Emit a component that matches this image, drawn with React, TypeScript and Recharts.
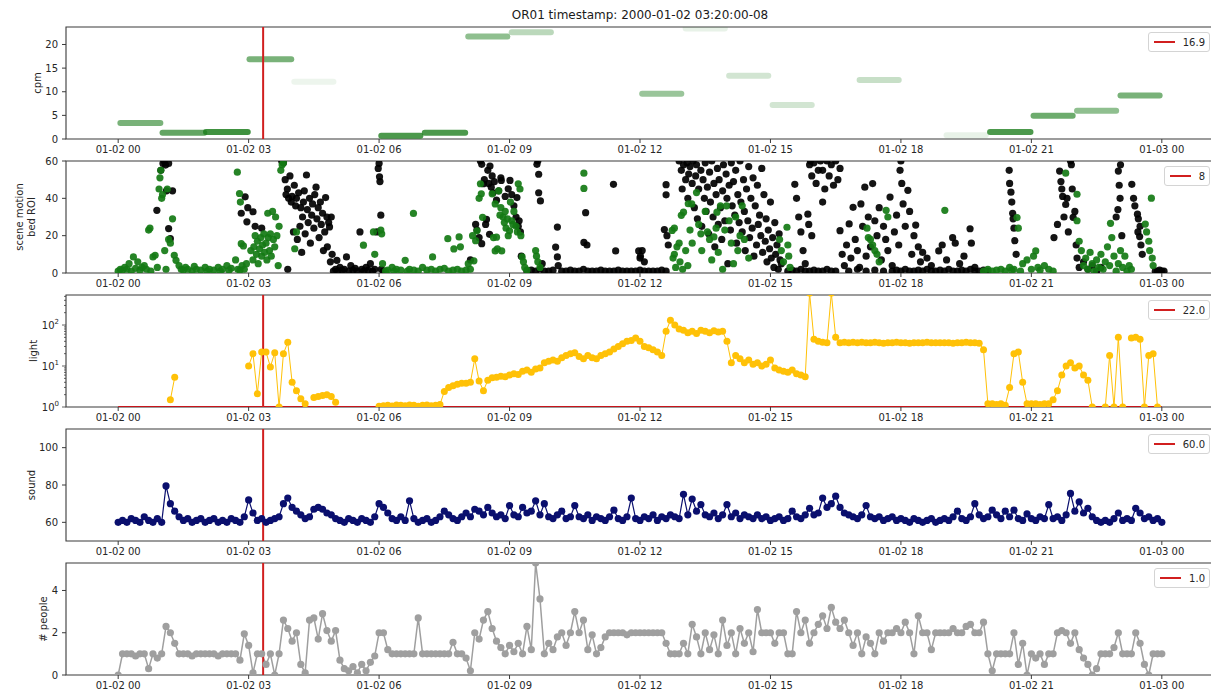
import React from 'react';
import {
  ComposedChart,
  Line,
  Scatter,
  XAxis,
  YAxis,
  ReferenceLine,
  ReferenceArea,
} from 'recharts';

// ---- shared axis data ----
const HOUR_TICKS = [0, 3, 6, 9, 12, 15, 18, 21, 24];
const HOUR_TICK_LABELS = [
  '01-02 00', '01-02 03', '01-02 06', '01-02 09', '01-02 12',
  '01-02 15', '01-02 18', '01-02 21', '01-03 00',
];
const X_DOMAIN: [number, number] = [-1.2, 25.2];
const MARK_HOUR = 3 + 20 / 60;
const TITLE = 'OR01 timestamp: 2000-01-02 03:20:00-08';
const LEGEND_VALUES = ['16.9', '8', '22.0', '60.0', '1.0'];

// ---- cpm: one horizontal bar per hour block ----
const CPM_FROM = [0.05, 1.02, 2.02, 3.02, 4.05, 6.05, 7.05, 8.05, 9.05, 12.05, 13.05, 14.05, 15.05, 17.05, 19.05, 20.05, 21.05, 22.05, 23.05];
const CPM_TO = [0.97, 1.98, 2.98, 3.98, 4.95, 6.95, 7.98, 8.95, 9.95, 12.95, 13.95, 14.95, 15.95, 17.95, 19.95, 20.98, 21.95, 22.95, 23.95];
const CPM_VALUE = [3.4, 1.3, 1.5, 16.9, 12.1, 0.7, 1.3, 21.7, 22.6, 9.6, 23.4, 13.4, 7.2, 12.5, 0.8, 1.5, 4.9, 6.0, 9.2];
const CPM_ALPHA = [0.6, 0.7, 0.85, 0.6, 0.08, 0.8, 0.8, 0.5, 0.3, 0.45, 0.1, 0.2, 0.2, 0.25, 0.1, 0.8, 0.65, 0.5, 0.6];

// ---- scene motion (bed ROI) scatter: [hour, value] ----
const MOTION_BLACK: [number, number][] = [
  [0.89, 33.6], [0.98, 55], [1.03, 58.7], [1.06, 60], [1.09, 57.8], [1.11, 44], [1.16, 58.7], [1.16, 23.8], [1.2, 18.4], [1.25, 44],
  [2.83, 32], [2.92, 40.8], [2.96, 27.4], [2.98, 35], [3.1, 32.8], [3.15, 25], [3.3, 24],
  [3.76, 60], [3.8, 59], [3.84, 50], [3.86, 42], [3.89, 45], [3.9, 2], [3.92, 40], [3.95, 52], [3.98, 38], [4.0, 41], [4.03, 22],
  [4.05, 47], [4.08, 36], [4.1, 40], [4.12, 18], [4.15, 43], [4.18, 25], [4.2, 35], [4.22, 11], [4.24, 30], [4.26, 38], [4.28, 44],
  [4.3, 21], [4.33, 52.5], [4.35, 34], [4.37, 27], [4.4, 40], [4.42, 16], [4.45, 31], [4.47, 37], [4.5, 24], [4.52, 42], [4.55, 46],
  [4.57, 29], [4.6, 35], [4.62, 19], [4.65, 38], [4.67, 26], [4.7, 32], [4.72, 12], [4.75, 22], [4.77, 40.4], [4.8, 30], [4.81, 14],
  [4.84, 27], [4.86, 24.7], [4.88, 6], [4.9, 30], [4.92, 10],
  [4.95, 1], [5.0, 2], [5.03, 6.8], [5.05, 1], [5.1, 3], [5.15, 1.5], [5.2, 2], [5.25, 8.6], [5.3, 1], [5.35, 4], [5.4, 1.5],
  [5.45, 2.5], [5.5, 1], [5.56, 22], [5.6, 2], [5.65, 1], [5.7, 3], [5.75, 1.5], [5.8, 5], [5.85, 1], [5.9, 2], [5.95, 22],
  [5.98, 56], [6.0, 58.7], [6.01, 51.5], [6.02, 49], [6.04, 31], [6.05, 2], [6.1, 1],
  [8.1, 7], [8.22, 26], [8.25, 23], [8.3, 19], [8.33, 60], [8.36, 15.7], [8.36, 58.2], [8.4, 47.8], [8.42, 50], [8.45, 26],
  [8.47, 28.7], [8.5, 55], [8.52, 48], [8.54, 20.7], [8.55, 57.3], [8.58, 46], [8.6, 52], [8.62, 43], [8.65, 48.9], [8.7, 39],
  [8.75, 44], [8.8, 51], [8.81, 49.6], [8.9, 41], [8.97, 45.1], [9.01, 49.6], [9.05, 42], [9.1, 36], [9.15, 30], [9.17, 40.4],
  [9.2, 25], [9.22, 28], [9.25, 22], [9.27, 9],
  [9.63, 58.2], [9.65, 60], [9.67, 52.9], [9.67, 43], [9.71, 38.6], [9.75, 5], [10.06, 13.9], [10.1, 24.6], [10.1, 8.6], [10.12, 4],
  [10.71, 16.4], [10.75, 32.3], [10.78, 15], [11.39, 47.5], [11.44, 11.8], [11.97, 11.8], [12.0, 8], [12.01, 9], [12.05, 12], [12.1, 6],
  [9.4, 1], [9.5, 1.5], [9.6, 1], [9.7, 2], [9.8, 1], [9.9, 1], [10.0, 1.5], [10.2, 1], [10.3, 1], [10.4, 1.5], [10.5, 1],
  [10.6, 1], [10.7, 2], [10.8, 1], [10.9, 1], [11.0, 1], [11.1, 1.5], [11.2, 1], [11.3, 1], [11.4, 1], [11.5, 1.5], [11.6, 1],
  [11.7, 1], [11.8, 1], [11.9, 1], [12.0, 1.5], [12.1, 1], [12.2, 1], [12.3, 1], [12.4, 1], [12.5, 1.5], [12.6, 1],
  [12.56, 23.3], [12.6, 47.3], [12.6, 41.9], [12.62, 20], [12.65, 15], [12.9, 60], [12.95, 55], [12.97, 45], [13.0, 58], [13.05, 50],
  [13.08, 59], [13.1, 40], [13.12, 53], [13.15, 57], [13.2, 48], [13.22, 60], [13.25, 35], [13.28, 52], [13.3, 58], [13.32, 29],
  [13.35, 45], [13.4, 55], [13.42, 25], [13.45, 50], [13.48, 40], [13.5, 59], [13.52, 33], [13.55, 46], [13.58, 21], [13.6, 54],
  [13.62, 38], [13.65, 60], [13.68, 30], [13.7, 48], [13.72, 14], [13.75, 42], [13.78, 56], [13.8, 26], [13.82, 50], [13.85, 35],
  [13.88, 18], [13.9, 44], [13.92, 58], [13.95, 28], [13.98, 53], [14.0, 40], [14.02, 5], [14.05, 47], [14.08, 23], [14.1, 59],
  [14.12, 36], [14.15, 49], [14.18, 31], [14.2, 55], [14.22, 16], [14.25, 42], [14.28, 27], [14.3, 60], [14.32, 38], [14.35, 22],
  [14.38, 50], [14.4, 33], [14.42, 12], [14.45, 45], [14.48, 28], [14.5, 57], [14.52, 19], [14.55, 40], [14.58, 24], [14.6, 51],
  [14.62, 9], [14.65, 36], [14.68, 15], [14.7, 47], [14.72, 26], [14.75, 31], [14.78, 20], [14.8, 56], [14.82, 11], [14.85, 42],
  [14.88, 17], [14.9, 29], [14.92, 6], [14.95, 23], [14.98, 13], [15.0, 38], [15.02, 8], [15.05, 19], [15.08, 3], [15.1, 27],
  [15.12, 10], [15.15, 15], [15.18, 2], [15.2, 21], [15.22, 7], [15.25, 5],
  [15.56, 47.5], [15.6, 40], [15.65, 30], [15.7, 22], [15.75, 12], [15.8, 5], [15.86, 31.5], [15.88, 26], [15.9, 58], [15.92, 60],
  [15.95, 52], [15.95, 20], [16.0, 59], [16.05, 48], [16.1, 55], [16.15, 60], [16.2, 55], [16.2, 38], [16.25, 45], [16.3, 60],
  [16.35, 52], [16.4, 58], [16.45, 47], [16.5, 60], [16.55, 50], [16.6, 56],
  [15.4, 1], [15.5, 1.5], [15.6, 1], [15.7, 2], [15.8, 1], [15.9, 1], [16.0, 1.5], [16.1, 1], [16.2, 1], [16.3, 2], [16.4, 1], [16.5, 1],
  [16.6, 22.7], [16.65, 10], [16.7, 4], [16.75, 15], [16.81, 26.3], [16.85, 8], [16.9, 35.2], [16.95, 18], [17.0, 12], [17.05, 3],
  [17.08, 37], [17.12, 25], [17.17, 46], [17.2, 9], [17.25, 30], [17.3, 14], [17.35, 47.9], [17.4, 28], [17.45, 20], [17.5, 35],
  [17.55, 7], [17.6, 25], [17.65, 18], [17.7, 12], [17.75, 40.7], [17.8, 4], [17.85, 22], [17.9, 31], [17.95, 15], [17.98, 55],
  [18.0, 60], [18.02, 48], [18.05, 37], [18.1, 25], [18.16, 44.3], [18.2, 33], [18.25, 10], [18.3, 20], [18.34, 25.7], [18.4, 14],
  [18.45, 6], [18.5, 11], [18.6, 8], [18.7, 4], [18.87, 11.8], [18.95, 15], [19.05, 7], [19.19, 18.9], [19.25, 16], [19.35, 5],
  [19.45, 9], [19.59, 23.7], [19.62, 16], [19.7, 3],
  [16.8, 1], [17.0, 2], [17.2, 1], [17.4, 1.5], [17.6, 1],
  [17.8, 1], [17.9, 1.5], [18.0, 1], [18.1, 2], [18.2, 1], [18.3, 1], [18.4, 1.5], [18.5, 1], [18.6, 2], [18.7, 1], [18.8, 1],
  [18.9, 1.5], [19.0, 1], [19.1, 2], [19.2, 1], [19.3, 1], [19.4, 1.5], [19.5, 1], [19.6, 2], [19.7, 1], [19.8, 1], [19.9, 1.5], [20.0, 1],
  [20.49, 55], [20.5, 48], [20.53, 43.3], [20.55, 38], [20.57, 32], [20.58, 29], [20.6, 24], [20.62, 17.3], [20.65, 10],
  [21.52, 19], [21.6, 26], [21.65, 54.6], [21.68, 49], [21.7, 45], [21.72, 41], [21.75, 30], [21.79, 36.7], [21.82, 40], [21.85, 22],
  [21.9, 60], [21.92, 58], [21.94, 45], [21.96, 29.8], [22.0, 33], [22.03, 15], [22.05, 8],
  [22.1, 3], [22.2, 6], [22.3, 2], [22.4, 4], [22.5, 1], [22.6, 3],
  [22.95, 30], [22.99, 34], [23.0, 54.6], [23.02, 47], [23.04, 40], [23.05, 58], [23.08, 20], [23.31, 47.5], [23.35, 40], [23.38, 36],
  [23.44, 31.5], [23.45, 22], [23.46, 29], [23.49, 19.5], [23.5, 25], [23.52, 15], [23.55, 10],
  [23.85, 1], [23.9, 1], [23.95, 1.5], [24.0, 1], [24.05, 1],
];

const MOTION_GREEN: [number, number][] = [
  [0.0, 1], [0.05, 2], [0.1, 1.5], [0.15, 3], [0.2, 2], [0.25, 5], [0.3, 1], [0.35, 8.6], [0.4, 2.5], [0.45, 6], [0.5, 1.5],
  [0.55, 3], [0.6, 4], [0.65, 2], [0.7, 23], [0.73, 24], [0.75, 1], [0.8, 8.6], [0.85, 9.5], [0.9, 3], [0.94, 45], [0.96, 51],
  [0.98, 55], [1.0, 40], [1.02, 42], [1.07, 12], [1.1, 2], [1.13, 45], [1.16, 18], [1.2, 16], [1.25, 29], [1.29, 9.5], [1.33, 6.8],
  [1.4, 4], [1.45, 2], [1.5, 1.5], [1.55, 3], [1.6, 2], [1.7, 1], [1.75, 3.5], [1.8, 2], [1.9, 1.5], [2.0, 3], [2.05, 1], [2.1, 2],
  [2.2, 1.5], [2.3, 3], [2.35, 1], [2.4, 2], [2.5, 4], [2.55, 1.5], [2.6, 2.5], [2.7, 7], [2.75, 2], [2.8, 1.5], [2.85, 4], [2.9, 2],
  [2.74, 54], [2.79, 42.6], [2.81, 38], [2.83, 15.7], [2.88, 14.5], [2.95, 5], [3.05, 12], [3.1, 7], [3.12, 14], [3.15, 20],
  [3.18, 10], [3.2, 17], [3.22, 5], [3.25, 13], [3.28, 19], [3.3, 9], [3.32, 15], [3.35, 21], [3.37, 11], [3.4, 16], [3.42, 7],
  [3.44, 32], [3.45, 19], [3.48, 12], [3.5, 21], [3.52, 9], [3.55, 33], [3.57, 18], [3.6, 14], [3.62, 30], [3.65, 20], [3.68, 4],
  [3.7, 25], [3.74, 55], [3.77, 58], [3.8, 59], [4.06, 13], [4.1, 22],
  [5.64, 14.9], [5.87, 22], [5.9, 10], [6.04, 23], [6.06, 21], [6.08, 5], [6.15, 1], [6.2, 1.5], [6.3, 3], [6.35, 1], [6.4, 2],
  [6.5, 1.5], [6.6, 6.8], [6.65, 1], [6.7, 2], [6.79, 31.9], [6.8, 1.5], [6.9, 1], [7.0, 3], [7.1, 1.5], [7.2, 2], [7.23, 8.6],
  [7.3, 1], [7.4, 2], [7.5, 2.5], [7.58, 18.4], [7.6, 1], [7.7, 1.5], [7.72, 12.9], [7.8, 2], [7.84, 19.3], [7.87, 14], [7.9, 1],
  [8.0, 1.5], [8.05, 5], [8.1, 2], [8.15, 20], [8.18, 6.5], [8.22, 17.3], [8.25, 22.6], [8.3, 40], [8.33, 47.8], [8.35, 42.4], [8.38, 29.8],
  [8.6, 42.4], [8.63, 19], [8.67, 37], [8.67, 11.8], [8.7, 19.2], [8.72, 13], [8.75, 44], [8.78, 31], [8.8, 35], [8.82, 11.8],
  [8.85, 30], [8.88, 27], [8.9, 33], [8.92, 24], [8.95, 29], [8.97, 20], [9.0, 22.6], [9.02, 38], [9.05, 28], [9.08, 26], [9.1, 33],
  [9.15, 25], [9.18, 22], [9.2, 47.8], [9.24, 45], [9.26, 20], [9.29, 8.6], [9.32, 6], [9.35, 3], [9.4, 1.5], [9.6, 12], [9.62, 9],
  [9.65, 6], [9.7, 3], [10.71, 53.5], [10.71, 45.3],
  [12.74, 22.8], [12.76, 8], [12.79, 24], [12.79, 10], [12.82, 3], [12.85, 14], [12.9, 16], [12.92, 6], [12.95, 30.9], [12.98, 2],
  [13.0, 32.6], [13.05, 12], [13.1, 4], [13.11, 37.1], [13.15, 23], [13.19, 37], [13.2, 16], [13.3, 43.1], [13.35, 26], [13.4, 21],
  [13.42, 12], [13.5, 33], [13.55, 22], [13.6, 18], [13.65, 7], [13.7, 19.3], [13.75, 24], [13.77, 32.6], [13.8, 11], [13.85, 36],
  [13.9, 2], [13.95, 23], [13.99, 36], [14.05, 28], [14.1, 16], [14.15, 5], [14.2, 30], [14.25, 12], [14.3, 20], [14.35, 36],
  [14.4, 18], [14.5, 8], [15.21, 17.9], [15.25, 12], [15.3, 6], [15.38, 24.5], [15.4, 15], [15.42, 9], [15.45, 3],
  [17.22, 24], [17.25, 19], [17.3, 18], [17.35, 15], [17.4, 12], [17.45, 10], [17.5, 6], [17.66, 33.6], [17.7, 30], [19.01, 33.6],
  [19.9, 1], [20.0, 2], [20.1, 1], [20.2, 1.5], [20.3, 2], [20.4, 1], [20.5, 3], [20.55, 1.5], [20.6, 2], [20.67, 29.7], [20.7, 24],
  [20.75, 1], [20.8, 5], [20.9, 7], [21.0, 2], [21.05, 9], [21.1, 11.8], [21.15, 3], [21.2, 1.5], [21.3, 4], [21.4, 2], [21.5, 1],
  [21.79, 53.5], [22.05, 42.2], [22.05, 28], [22.1, 17], [22.15, 12], [22.2, 4], [22.25, 8], [22.3, 2], [22.35, 11], [22.4, 5],
  [22.45, 1], [22.5, 7], [22.55, 3], [22.6, 10], [22.65, 2], [22.7, 6], [22.75, 14], [22.8, 4], [22.82, 26.6], [22.85, 19],
  [22.9, 9], [22.95, 1], [23.0, 5], [23.05, 12], [23.1, 3], [23.15, 9], [23.2, 1], [23.25, 4], [23.3, 2], [23.62, 26.2],
  [23.65, 22], [23.7, 17], [23.72, 12], [23.76, 40.1], [23.78, 8], [23.8, 4],
];

// ---- time series sampled every 6 minutes (0.0h .. 24.0h) ----
const LIGHT: (number | null)[] = [
  null, null, null, null, null, null, null, null, null, null,
  null, null, 1.5, 5.3, null, null, null, null, null, null,
  null, null, null, null, null, null, null, null, null, null,
  10, 20, 2.1, 22, 22, 9.5, 21, 1, 20, 38,
  4, 2.5, 1.6, 1.2, null, 1.7, 1.8, 1.9, 2.0, 1.8,
  1.3, null, null, null, null, null, null, null, null, null,
  1.05, 1.08, 1.1, 1.06, 1.12, 1.1, 1.08, 1.12, 1.1, 1.05,
  1.1, 1.12, 1.08, 1.1, 1.15, 2.4, 3.0, 3.3, 3.6, 3.8,
  3.8, 4.0, 15, 4.3, 2.5, 4.5, 5.2, 5.3, 5.6, 5.5,
  6.0, 6.5, 6.2, 7.5, 8.0, 7.0, 8.5, 9.0, 12, 13,
  14, 13, 16, 18, 20, 21, 17, 15, 18, 16,
  15, 18, 20, 22, 26, 30, 35, 40, 42, 48,
  40, 30, 28, 25, 22, 18, 70, 130, 100, 80,
  75, 65, 70, 62, 75, 70, 65, 72, 68, 70,
  40, 12, 18, 15, 12, 14, 11, 12, 10, 11,
  14, 9, 8, 7.5, 7, 8, 6.5, 6, 5.5, 600,
  45, 40, 38, 37, 600, 50, 37, 38, 37, 38,
  37, 38, 37, 37, 38, 37, 36, 37, 37, 38,
  37, 37, 36, 37, 37, 37, 38, 37, 37, 37,
  37, 37, 36, 37, 37, 38, 37, 37, 36, 25,
  1.2, 1.2, 1.15, 1.2, 1.1, 3, 20, 22, 4, 1.2,
  1.2, 1.2, 1.15, 1.2, 1.2, 1.5, 2.5, 6, 10, 12,
  9, 10, 6, 4.5, 1, null, null, 1, 18, 1,
  50, 1, null, 48, 50, 45, 1, 18, 20, 1,
  null,
];

const SOUND = [
  60, 61, 60, 62, 61, 60, 63, 61, 60, 62,
  60, 79.5, 70, 66, 63, 61, 62, 60, 61, 62,
  60, 61, 62, 60, 61, 60, 62, 61, 60, 63,
  72, 65, 61, 62, 60, 61, 62, 63, 70, 73,
  68, 66, 64, 62, 63, 67, 68, 67, 65, 64,
  62, 61, 60, 62, 61, 60, 62, 61, 60, 63,
  70, 68, 65, 62, 61, 63, 61, 71.5, 62, 60,
  61, 62, 60, 61, 63, 66, 64, 62, 61, 63,
  65, 63, 67, 66, 64, 68, 65, 63, 64, 62,
  69, 64, 63, 68, 65, 66, 71.5, 64, 70, 63,
  62, 64, 66, 62, 63, 69, 63, 62, 64, 61,
  63, 62, 61, 63, 66.5, 62, 61, 63, 73, 62,
  61, 63, 62, 64, 61, 63, 62, 64, 63, 62,
  75, 64, 72.5, 66, 69.5, 64, 63, 65, 62, 64,
  69.5, 63, 65, 62, 64, 63, 62, 64, 62, 63,
  61, 62, 63, 61, 62, 66, 63, 62, 64, 67.5,
  64, 65, 73, 68, 70, 74, 68, 65, 64, 63,
  62, 64, 69, 63, 62, 63, 61, 62, 63, 61,
  62, 61, 60, 62, 61, 60, 61, 62, 60, 61,
  62, 61, 63, 66, 62, 61, 63, 70, 64, 62,
  63, 66.5, 64, 62, 66, 63, 66.5, 62, 61, 64.5,
  62, 61, 63, 62, 69.5, 62, 63, 61, 64, 75.5,
  66, 71, 65, 67.5, 63, 61, 60, 61, 60, 62,
  65, 61, 62, 61, 67.5, 65, 62, 63, 61, 62,
  60,
];

const PEOPLE = [
  0, 1.0, 1.0, 1.0, 0.9, 1.0, 1.0, 0.3, 1.0, 0.8,
  1.0, 2.3, 2.0, 1.5, 1.0, 1.0, 1.0, 0.9, 1.0, 1.0,
  1.0, 1.0, 1.0, 0.9, 1.0, 1.0, 1.0, 1.0, 0.7, 1.95,
  1.4, 0.1, 1.0, 1.0, 0.5, 1.0, 0, 1.0, 2.6, 2.2,
  1.6, 2.0, 0.5, 0.1, 2.6, 2.7, 1.7, 2.9, 2.1, 1.6,
  2.1, 0.7, 0.3, 0.2, 0.4, 0.1, 0.5, 0.2, 0.6, 0.9,
  2.0, 2.0, 1.2, 1.0, 1.0, 1.0, 1.0, 1.0, 1.0, 2.7,
  1.0, 1.0, 1.0, 1.0, 1.0, 1.0, 1.0, 1.55, 1.0, 1.0,
  0.8, 0.2, 2.0, 1.7, 2.6, 3.0, 2.2, 1.6, 1.3, 1.0,
  1.4, 1.1, 1.5, 1.0, 2.3, 1.2, 5.3, 3.6, 1.0, 1.5,
  1.2, 1.8, 2.0, 1.4, 2.0, 3.0, 2.0, 2.6, 1.2, 1.9,
  1.0, 1.3, 1.8, 2.0, 2.0, 2.0, 2.0, 1.9, 2.0, 2.0,
  2.0, 2.0, 2.0, 2.0, 2.0, 2.0, 1.5, 1.0, 1.0, 1.0,
  1.5, 1.0, 2.4, 1.8, 1.0, 2.0, 1.2, 1.9, 1.0, 2.6,
  1.4, 2.0, 1.0, 2.2, 1.5, 2.0, 1.1, 3.1, 2.0, 2.0,
  2.0, 1.5, 2.0, 2.0, 1.0, 1.0, 3.0, 2.0, 2.6, 1.5,
  2.0, 2.4, 2.8, 2.2, 3.2, 2.5, 2.2, 2.6, 2.0, 1.4,
  2.0, 1.0, 1.8, 1.5, 1.0, 2.0, 1.6, 2.0, 2.0, 2.2,
  2.0, 2.5, 2.0, 1.0, 2.8, 2.0, 2.0, 1.2, 2.0, 2.0,
  2.0, 2.0, 2.2, 2.0, 2.0, 2.3, 2.4, 2.0, 2.0, 2.5,
  1.0, 0.2, 1.0, 1.0, 1.0, 1.0, 2.0, 0.5, 1.5, 0,
  1.0, 0.8, 1.0, 0.5, 1.0, 1.0, 2.0, 2.1, 2.0, 1.5,
  2.0, 1.2, 0.8, 0.5, 0, 0.3, 1.0, 1.0, 1.0, 1.3,
  2.0, 1.0, 1.0, 1.0, 2.0, 1.5, 0.5, 0, 1.0, 1.0,
  1.0,
];

const HOURS = SOUND.map((_, i) => i / 10);
const LIGHT_FLOOR = [{ h: 0, v: 1 }, { h: 24, v: 1 }];

const LIGHT_MAJOR = [1, 10, 100];
const LIGHT_TICKS = [1, 2, 3, 4, 5, 6, 7, 8, 9, 10, 20, 30, 40, 50, 60, 70, 80, 90, 100, 200, 300, 400, 500];

// ---- layout / style ----
const CHART_W = 1230;
const PLOT_LEFT = 66;
const PLOT_RIGHT = 1214;
const PLOT_H = 112;
const MARGIN_TOP = 4;
const AXIS_H = 20;
const CHART_H = MARGIN_TOP + PLOT_H + AXIS_H;
const PANEL_TOPS = [27, 161, 295, 429, 563];
const MARGIN = { top: MARGIN_TOP, right: CHART_W - PLOT_RIGHT, bottom: 0, left: PLOT_LEFT - 50 };
const FONT = "'DejaVu Sans', Verdana, sans-serif";
const SPINE = '#3a3a3a';
const RED = '#d11f1f';
const TICK_STYLE = { fontSize: 10, fill: '#262626', fontFamily: FONT };

const fmtHour = (v: number) => HOUR_TICK_LABELS[HOUR_TICKS.indexOf(v)] ?? '';

function AxisTitle(props: any) {
  const { viewBox, lines, cx } = props;
  const cy = viewBox ? viewBox.y + viewBox.height / 2 : MARGIN_TOP + PLOT_H / 2;
  return (
    <text
      transform={`rotate(-90, ${cx}, ${cy})`}
      textAnchor="middle"
      dominantBaseline="central"
      fontSize={10}
      fill="#262626"
      fontFamily={FONT}
    >
      {lines.map((l: string, i: number) => (
        <tspan key={l} x={cx} y={cy + (i - (lines.length - 1) / 2) * 12}>
          {l}
        </tspan>
      ))}
    </text>
  );
}

function LogTick(props: any) {
  const { y, payload } = props;
  const v = payload.value;
  const major = LIGHT_MAJOR.includes(v);
  return (
    <g>
      <line x1={PLOT_LEFT - (major ? 4 : 2)} x2={PLOT_LEFT} y1={y} y2={y} stroke={SPINE} strokeWidth={0.8} />
      {major && (
        <text x={PLOT_LEFT - 7} y={y + 4} textAnchor="end" fontSize={10} fill="#262626" fontFamily={FONT}>
          10
          <tspan dy={-5} fontSize={7}>{Math.round(Math.log10(v))}</tspan>
        </text>
      )}
    </g>
  );
}

function LegendBox({ value }: { value: string }) {
  return (
    <div
      style={{
        position: 'absolute',
        right: CHART_W - 1210,
        top: MARGIN_TOP + 5,
        height: 18,
        display: 'flex',
        alignItems: 'center',
        border: '1px solid #d4d4d4',
        borderRadius: 3,
        background: 'rgba(255,255,255,0.85)',
        padding: '0 4px 0 5px',
        fontSize: 10,
        color: '#262626',
        fontFamily: FONT,
      }}
    >
      <div style={{ width: 21, height: 1.5, background: RED }} />
      <span style={{ marginLeft: 8 }}>{value}</span>
    </div>
  );
}

const dotShape = (color: string, opacity = 1) => (p: any) => (
  <circle cx={p.cx} cy={p.cy} r={3.6} fill={color} fillOpacity={opacity} />
);

function xAxis() {
  return (
    <XAxis
      type="number"
      dataKey="h"
      domain={X_DOMAIN}
      ticks={HOUR_TICKS}
      interval={0}
      allowDataOverflow
      tickFormatter={fmtHour}
      tick={TICK_STYLE}
      tickSize={4}
      tickMargin={3}
      axisLine={false}
      tickLine={{ stroke: SPINE }}
      height={AXIS_H}
    />
  );
}

function frame(y1: number, y2: number) {
  return (
    <ReferenceArea
      x1={X_DOMAIN[0]}
      x2={X_DOMAIN[1]}
      y1={y1}
      y2={y2}
      fill="none"
      stroke={SPINE}
      strokeWidth={1.1}
      ifOverflow="visible"
    />
  );
}

function marker() {
  return <ReferenceLine x={MARK_HOUR} stroke={RED} strokeWidth={2} />;
}

export default function App() {
  const rows = HOURS.map((h, i) => ({ h, light: LIGHT[i], sound: SOUND[i], people: PEOPLE[i] }));
  const black = MOTION_BLACK.map(([h, v]) => ({ h, v }));
  const green = MOTION_GREEN.map(([h, v]) => ({ h, v }));

  const panelStyle = (i: number): React.CSSProperties => ({
    position: 'absolute',
    left: 0,
    top: PANEL_TOPS[i] - MARGIN_TOP,
    width: CHART_W,
    height: CHART_H,
  });

  return (
    <div
      style={{
        position: 'fixed',
        left: 0,
        top: 0,
        width: 1211,
        height: 694,
        overflow: 'hidden',
        background: '#fff',
        fontFamily: FONT,
      }}
    >
      <div
        style={{
          position: 'absolute',
          left: PLOT_LEFT,
          width: PLOT_RIGHT - PLOT_LEFT,
          top: 8,
          textAlign: 'center',
          fontSize: 12,
          lineHeight: '14px',
          color: '#1a1a1a',
        }}
      >
        {TITLE}
      </div>

      {/* cpm */}
      <div style={panelStyle(0)}>
        <ComposedChart width={CHART_W} height={CHART_H} margin={MARGIN}>
          {xAxis()}
          <YAxis
            type="number"
            domain={[0, 23.7]}
            ticks={[0, 5, 10, 15, 20]}
            interval={0}
            allowDataOverflow
            tick={TICK_STYLE}
            tickSize={4}
            tickMargin={4}
            axisLine={false}
            tickLine={{ stroke: SPINE }}
            width={50}
            label={<AxisTitle lines={['cpm']} cx={37} />}
          />
          {CPM_VALUE.map((v, i) => (
            <Line
              key={`cpm-${i}`}
              data={[{ h: CPM_FROM[i], v }, { h: CPM_TO[i], v }]}
              dataKey="v"
              stroke="#1f7f1f"
              strokeOpacity={CPM_ALPHA[i]}
              strokeWidth={6}
              strokeLinecap="round"
              dot={false}
              activeDot={false}
              isAnimationActive={false}
            />
          ))}
          {marker()}
          {frame(0, 23.7)}
        </ComposedChart>
        <LegendBox value={LEGEND_VALUES[0]} />
      </div>

      {/* scene motion */}
      <div style={panelStyle(1)}>
        <ComposedChart width={CHART_W} height={CHART_H} margin={MARGIN}>
          {xAxis()}
          <YAxis
            type="number"
            domain={[0, 60]}
            ticks={[0, 20, 40, 60]}
            interval={0}
            allowDataOverflow
            tick={TICK_STYLE}
            tickSize={4}
            tickMargin={4}
            axisLine={false}
            tickLine={{ stroke: SPINE }}
            width={50}
            label={<AxisTitle lines={['scene motion', 'bed ROI']} cx={25} />}
          />
          <Scatter data={black} dataKey="v" shape={dotShape('#000000', 0.92)} isAnimationActive={false} />
          <Scatter data={green} dataKey="v" shape={dotShape('#137a13', 0.92)} isAnimationActive={false} />
          {frame(0, 60)}
        </ComposedChart>
        <LegendBox value={LEGEND_VALUES[1]} />
      </div>

      {/* light */}
      <div style={panelStyle(2)}>
        <ComposedChart width={CHART_W} height={CHART_H} margin={MARGIN} data={rows}>
          {xAxis()}
          <YAxis
            type="number"
            scale="log"
            domain={[1, 540]}
            ticks={LIGHT_TICKS}
            interval={0}
            allowDataOverflow
            tick={(p: any) => <LogTick {...p} />}
            tickSize={0}
            tickMargin={0}
            axisLine={false}
            tickLine={false}
            width={50}
            label={<AxisTitle lines={['light']} cx={33} />}
          />
          <Line
            dataKey="light"
            stroke="#ffc107"
            strokeWidth={1}
            dot={{ r: 3.5, fill: '#ffc107', stroke: '#ffc107', strokeWidth: 0 }}
            activeDot={false}
            isAnimationActive={false}
          />
          <Line
            data={LIGHT_FLOOR}
            dataKey="v"
            stroke="#c8141a"
            strokeWidth={2}
            dot={false}
            activeDot={false}
            isAnimationActive={false}
          />
          {marker()}
          {frame(1, 540)}
        </ComposedChart>
        <LegendBox value={LEGEND_VALUES[2]} />
      </div>

      {/* sound */}
      <div style={panelStyle(3)}>
        <ComposedChart width={CHART_W} height={CHART_H} margin={MARGIN} data={rows}>
          {xAxis()}
          <YAxis
            type="number"
            domain={[50, 110]}
            ticks={[60, 80, 100]}
            interval={0}
            allowDataOverflow
            tick={TICK_STYLE}
            tickSize={4}
            tickMargin={4}
            axisLine={false}
            tickLine={{ stroke: SPINE }}
            width={50}
            label={<AxisTitle lines={['sound']} cx={31} />}
          />
          <Line
            dataKey="sound"
            stroke="#0a0f6e"
            strokeWidth={1.2}
            dot={{ r: 3.6, fill: '#0a0f6e', stroke: '#0a0f6e', strokeWidth: 0 }}
            activeDot={false}
            isAnimationActive={false}
          />
          {marker()}
          {frame(50, 110)}
        </ComposedChart>
        <LegendBox value={LEGEND_VALUES[3]} />
      </div>

      {/* people */}
      <div style={panelStyle(4)}>
        <ComposedChart width={CHART_W} height={CHART_H} margin={MARGIN} data={rows}>
          {xAxis()}
          <YAxis
            type="number"
            domain={[0, 5.3]}
            ticks={[0, 2, 4]}
            interval={0}
            allowDataOverflow
            tick={TICK_STYLE}
            tickSize={4}
            tickMargin={4}
            axisLine={false}
            tickLine={{ stroke: SPINE }}
            width={50}
            label={<AxisTitle lines={['# people']} cx={43} />}
          />
          <Line
            dataKey="people"
            stroke="#9f9f9f"
            strokeWidth={1.5}
            dot={{ r: 3.6, fill: '#9f9f9f', stroke: '#9f9f9f', strokeWidth: 0 }}
            activeDot={false}
            isAnimationActive={false}
          />
          {marker()}
          {frame(0, 5.3)}
        </ComposedChart>
        <LegendBox value={LEGEND_VALUES[4]} />
      </div>
    </div>
  );
}
